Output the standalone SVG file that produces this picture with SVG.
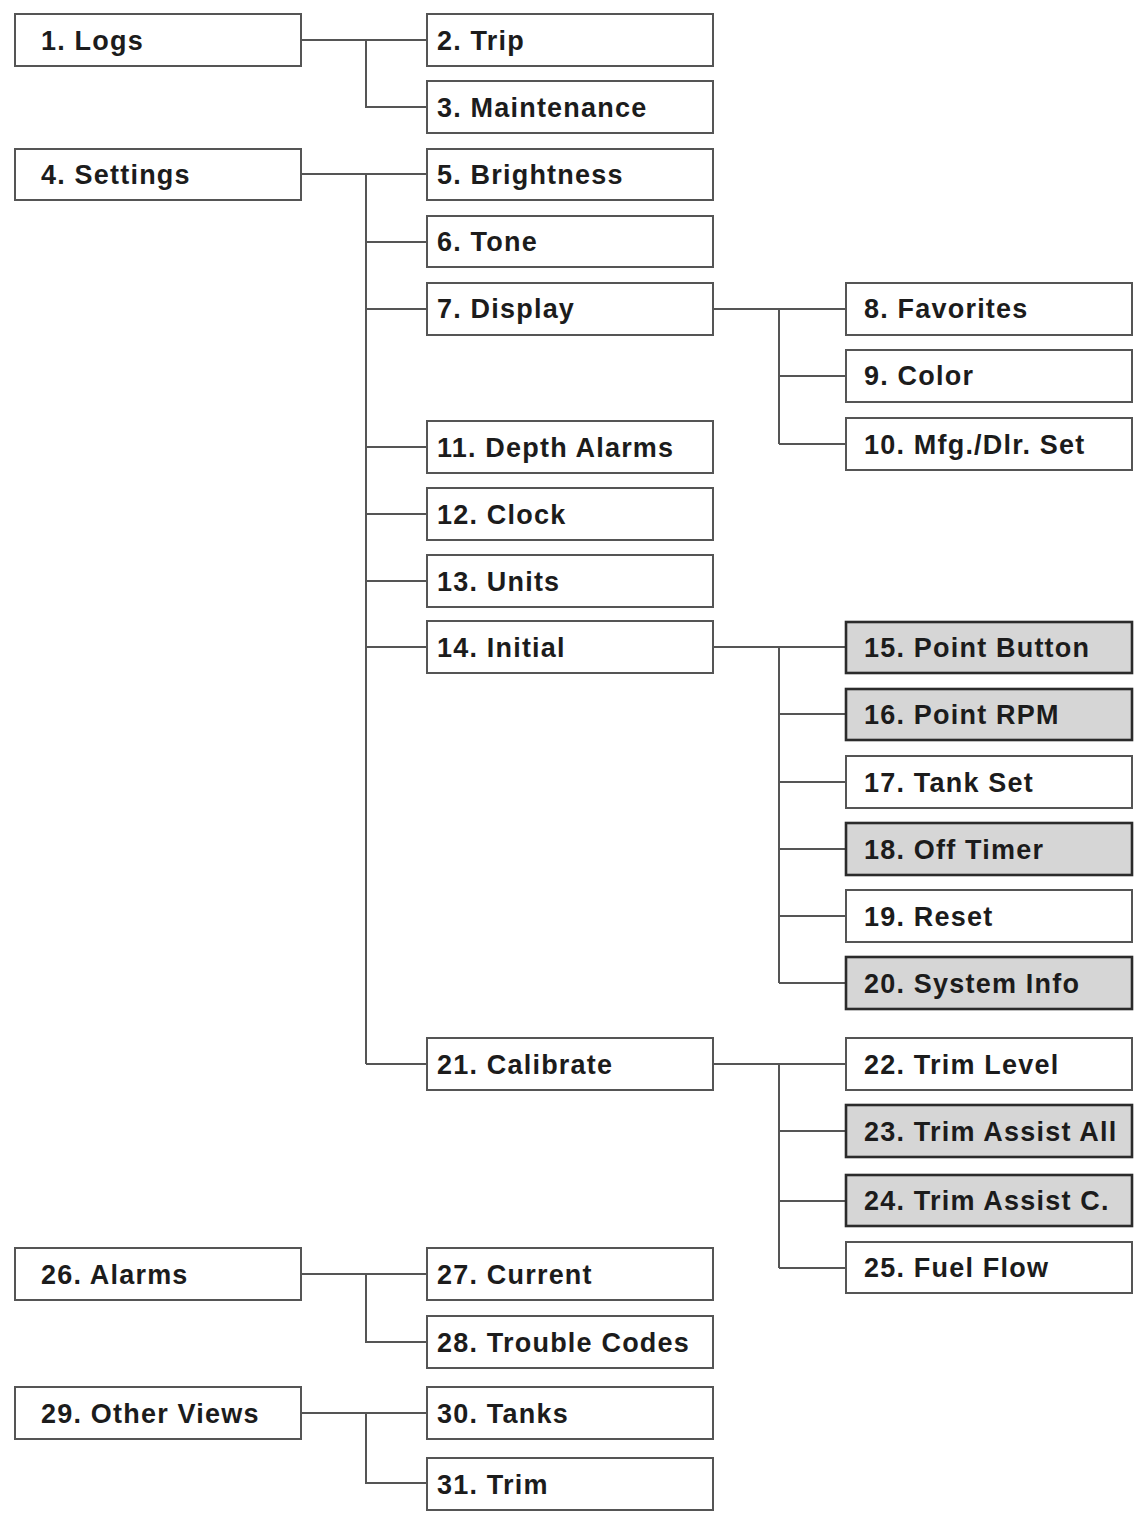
<svg xmlns="http://www.w3.org/2000/svg" width="1140" height="1515" viewBox="0 0 1140 1515">
<style>
.box{fill:#ffffff;stroke:#555555;stroke-width:2}
.hl{fill:#d6d6d6;stroke:#2b2b2b;stroke-width:2.6}
.t{font-family:"Liberation Sans",Arial,sans-serif;font-weight:bold;font-size:27px;letter-spacing:1.2px;fill:#1c1c1c}
.c{fill:none;stroke:#555555;stroke-width:2}
</style>
<rect width="1140" height="1515" fill="#ffffff"/>
<g id="connectors">
<path class="c" d="M301 40H427M366 40V107H427"/>
<path class="c" d="M301 174H427M366 174V1064M366 242H427M366 309H427M366 447H427M366 514H427M366 581H427M366 647H427M366 1064H427"/>
<path class="c" d="M713 309H846M779 309V444M779 376H846M779 444H846"/>
<path class="c" d="M713 647H846M779 647V983M779 714H846M779 782H846M779 849H846M779 916H846M779 983H846"/>
<path class="c" d="M713 1064H846M779 1064V1268M779 1131H846M779 1201H846M779 1268H846"/>
<path class="c" d="M301 1274H427M366 1274V1342H427"/>
<path class="c" d="M301 1413H427M366 1413V1483H427"/>
</g>
<g id="n1"><rect class="box" x="15" y="14" width="286" height="52"/><text class="t" x="41" y="50">1. Logs</text></g>
<g id="n2"><rect class="box" x="427" y="14" width="286" height="52"/><text class="t" x="437" y="50">2. Trip</text></g>
<g id="n3"><rect class="box" x="427" y="81" width="286" height="52"/><text class="t" x="437" y="117">3. Maintenance</text></g>
<g id="n4"><rect class="box" x="15" y="149" width="286" height="51"/><text class="t" x="41" y="184">4. Settings</text></g>
<g id="n5"><rect class="box" x="427" y="149" width="286" height="51"/><text class="t" x="437" y="184">5. Brightness</text></g>
<g id="n6"><rect class="box" x="427" y="216" width="286" height="51"/><text class="t" x="437" y="251">6. Tone</text></g>
<g id="n7"><rect class="box" x="427" y="283" width="286" height="52"/><text class="t" x="437" y="318">7. Display</text></g>
<g id="n8"><rect class="box" x="846" y="283" width="286" height="52"/><text class="t" x="864" y="318">8. Favorites</text></g>
<g id="n9"><rect class="box" x="846" y="350" width="286" height="52"/><text class="t" x="864" y="385">9. Color</text></g>
<g id="n10"><rect class="box" x="846" y="418" width="286" height="52"/><text class="t" x="864" y="454">10. Mfg./Dlr. Set</text></g>
<g id="n11"><rect class="box" x="427" y="421" width="286" height="52"/><text class="t" x="437" y="457">11. Depth Alarms</text></g>
<g id="n12"><rect class="box" x="427" y="488" width="286" height="52"/><text class="t" x="437" y="524">12. Clock</text></g>
<g id="n13"><rect class="box" x="427" y="555" width="286" height="52"/><text class="t" x="437" y="591">13. Units</text></g>
<g id="n14"><rect class="box" x="427" y="621" width="286" height="52"/><text class="t" x="437" y="657">14. Initial</text></g>
<g id="n15"><rect class="hl" x="846" y="622" width="286" height="51"/><text class="t" x="864" y="657">15. Point Button</text></g>
<g id="n16"><rect class="hl" x="846" y="689" width="286" height="51"/><text class="t" x="864" y="724">16. Point RPM</text></g>
<g id="n17"><rect class="box" x="846" y="756" width="286" height="52"/><text class="t" x="864" y="792">17. Tank Set</text></g>
<g id="n18"><rect class="hl" x="846" y="823" width="286" height="52"/><text class="t" x="864" y="859">18. Off Timer</text></g>
<g id="n19"><rect class="box" x="846" y="890" width="286" height="52"/><text class="t" x="864" y="926">19. Reset</text></g>
<g id="n20"><rect class="hl" x="846" y="957" width="286" height="52"/><text class="t" x="864" y="993">20. System Info</text></g>
<g id="n21"><rect class="box" x="427" y="1038" width="286" height="52"/><text class="t" x="437" y="1074">21. Calibrate</text></g>
<g id="n22"><rect class="box" x="846" y="1038" width="286" height="52"/><text class="t" x="864" y="1074">22. Trim Level</text></g>
<g id="n23"><rect class="hl" x="846" y="1105" width="286" height="52"/><text class="t" x="864" y="1141">23. Trim Assist All</text></g>
<g id="n24"><rect class="hl" x="846" y="1175" width="286" height="51"/><text class="t" x="864" y="1210">24. Trim Assist C.</text></g>
<g id="n25"><rect class="box" x="846" y="1242" width="286" height="51"/><text class="t" x="864" y="1277">25. Fuel Flow</text></g>
<g id="n26"><rect class="box" x="15" y="1248" width="286" height="52"/><text class="t" x="41" y="1284">26. Alarms</text></g>
<g id="n27"><rect class="box" x="427" y="1248" width="286" height="52"/><text class="t" x="437" y="1284">27. Current</text></g>
<g id="n28"><rect class="box" x="427" y="1316" width="286" height="52"/><text class="t" x="437" y="1352">28. Trouble Codes</text></g>
<g id="n29"><rect class="box" x="15" y="1387" width="286" height="52"/><text class="t" x="41" y="1423">29. Other Views</text></g>
<g id="n30"><rect class="box" x="427" y="1387" width="286" height="52"/><text class="t" x="437" y="1423">30. Tanks</text></g>
<g id="n31"><rect class="box" x="427" y="1458" width="286" height="52"/><text class="t" x="437" y="1494">31. Trim</text></g>
</svg>
